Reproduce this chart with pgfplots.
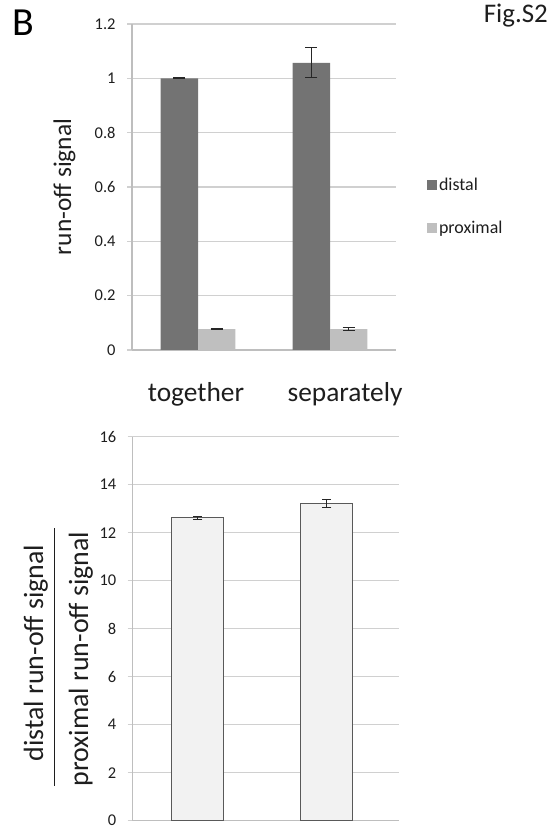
\documentclass[border=0pt]{standalone}
\usepackage{pgfplots}
\pgfplotsset{compat=1.18}
\usepackage{fontspec}
\setmainfont{Carlito}
\definecolor{distalc}{RGB}{115,115,115}
\definecolor{proxc}{RGB}{191,191,191}
\definecolor{gridc}{RGB}{208,208,208}
\definecolor{axisc}{RGB}{190,190,190}
\definecolor{ratiofill}{RGB}{242,242,242}
\definecolor{ratiodraw}{RGB}{89,89,89}
\definecolor{textc}{RGB}{30,30,30}
\begin{document}
\begin{tikzpicture}[x=1bp,y=1bp]
\useasboundingbox (0,0) rectangle (559,833);
% ---------- top chart ----------
\begin{axis}[
  at={(132bp,483bp)}, anchor=south west,
  scale only axis, width=264bp, height=326bp,
  ymin=0, ymax=1.2, ytick={0,0.2,0.4,0.6,0.8,1,1.2},
  xmin=-0.5, xmax=1.5, xtick=\empty,
  axis lines*=left,
  axis line style={draw=axisc, line width=1.2bp},
  ymajorgrids, grid style={draw=gridc, line width=1.2bp},
  tick align=outside, major tick length=5bp,
  ytick style={draw=gridc, line width=1.2bp},
  yticklabel style={font=\fontsize{16.5}{19}\selectfont, text=textc, xshift=-8bp},
  /pgf/number format/assume math mode=true,
  ybar, bar width=0.284,
  legend image code/.code={\fill[#1] (0bp,-5bp) rectangle (10bp,5bp);},
  legend style={at={(1.115,0.44)}, anchor=west, draw=none, fill=none,
    font=\fontsize{18}{21}\selectfont, row sep=24bp, inner sep=0pt,
    nodes={inner sep=2.5bp, text=textc}},
  legend cell align=left,
]
\addplot[fill=distalc, draw=none, bar shift=-0.142,
  error bars/.cd, y dir=both, y explicit,
  error bar style={draw=black!85, line width=1bp},
  error mark options={rotate=90, draw=black!85, mark size=6bp, line width=1bp}]
  coordinates {(0,1.0) +- (0,0.002) (1,1.057) +- (0,0.055)};
\addlegendentry{distal}
\addplot[fill=proxc, draw=none, bar shift=0.142,
  error bars/.cd, y dir=both, y explicit,
  error bar style={draw=black!85, line width=1bp},
  error mark options={rotate=90, draw=black!85, mark size=6bp, line width=1bp}]
  coordinates {(0,0.077) +- (0,0.0015) (1,0.077) +- (0,0.004)};
\addlegendentry{proximal}
\end{axis}
\node[anchor=base, font=\fontsize{27.5}{33}\selectfont, text=textc] at (196,431) {together};
\node[anchor=base, font=\fontsize{27.5}{33}\selectfont, text=textc] at (345,431) {separately};
\node[rotate=90, anchor=base, font=\fontsize{25.5}{30}\selectfont, text=textc, inner sep=0pt] at (71,646) {run-off signal};
% ---------- bottom chart ----------
\begin{axis}[
  at={(132.7bp,12.3bp)}, anchor=south west,
  scale only axis, width=266.3bp, height=384bp,
  ymin=0, ymax=16, ytick={0,2,4,6,8,10,12,14,16},
  xmin=-0.505, xmax=1.56, xtick=\empty,
  axis lines*=left,
  axis line style={draw=axisc, line width=1.2bp},
  ymajorgrids, grid style={draw=gridc, line width=1.2bp},
  tick align=outside, major tick length=5bp,
  ytick style={draw=gridc, line width=1.2bp},
  yticklabel style={font=\fontsize{16.5}{19}\selectfont, text=textc, xshift=-8bp},
  /pgf/number format/assume math mode=true,
  ybar, bar width=0.403, bar shift=0,
]
\addplot[fill=ratiofill, draw=ratiodraw, line width=1.3bp,
  error bars/.cd, y dir=both, y explicit,
  error bar style={draw=black!85, line width=1bp},
  error mark options={rotate=90, draw=black!85, mark size=4.5bp, line width=1bp}]
  coordinates {(0,12.62) +- (0,0.06) (1,13.22) +- (0,0.18)};
\end{axis}
\node[rotate=90, anchor=base, font=\fontsize{28}{33}\selectfont, text=textc, inner sep=0pt] at (43,180) {distal run-off signal};
\node[rotate=90, anchor=base, font=\fontsize{28}{33}\selectfont, text=textc, inner sep=0pt] at (88,174) {proximal run-off signal};
\draw[line width=1.2bp, draw=textc] (54.3,47) -- (54.3,305);
% ---------- panel letter and figure tag ----------
\node[anchor=base west, font=\fontsize{40}{48}\selectfont, inner sep=0pt] at (12,797) {B};
\node[anchor=base east, font=\fontsize{27}{32}\selectfont, inner sep=0pt, text=textc] at (548,810) {Fig.S2};
\end{tikzpicture}
\end{document}
